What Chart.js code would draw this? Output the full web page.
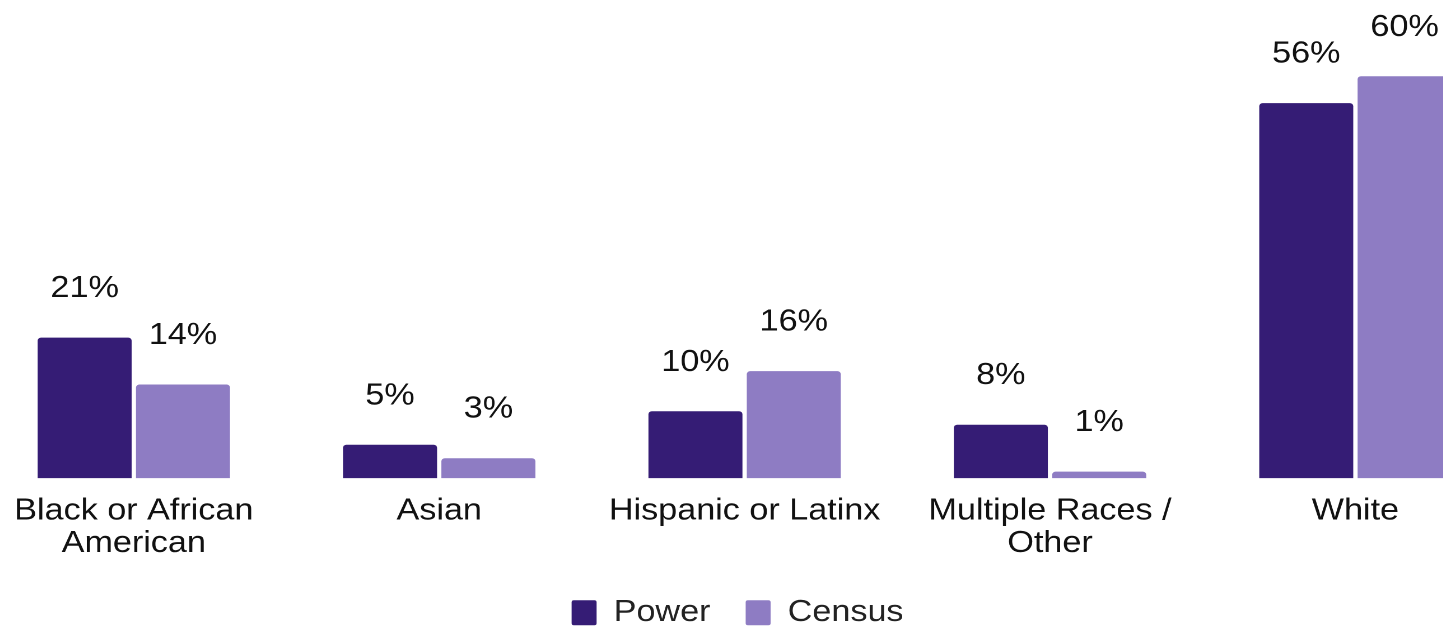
<!DOCTYPE html>
<html>
<head>
<meta charset="utf-8">
<script src="https://cdn.jsdelivr.net/npm/chart.js@4"></script>
<style>
  html, body { margin: 0; padding: 0; background: #ffffff; overflow: hidden; width: 1443px; height: 628px; }
  /* the chart is drawn a little narrow and widened horizontally */
  #wrap { position: absolute; left: -32.67px; top: 0; transform: scaleX(1.12); transform-origin: 0 0; }
  canvas { display: block; }
</style>
</head>
<body>
<div id="wrap"><canvas id="chart" width="1376" height="638"></canvas></div>
<script>
// Share of each group: people in power vs. census population
const categories = [['Black or African', 'American'], 'Asian', 'Hispanic or Latinx', ['Multiple Races /', 'Other'], 'White'];
const powerValues = [21, 5, 10, 8, 56];
const censusValues = [14, 3, 16, 1, 60];
const seriesNames = ['Power', 'Census'];
const seriesColors = ['#351c75', '#8e7cc3'];
const valueSuffix = '%';

const FONT = "'Liberation Sans', Arial, Helvetica, sans-serif";
const FONT_SIZE = 30.5;

// Value labels floating above each bar
const barValueLabels = {
  id: 'barValueLabels',
  afterDatasetsDraw(chart) {
    const ctx = chart.ctx;
    ctx.save();
    ctx.font = FONT_SIZE + 'px ' + FONT;
    ctx.fillStyle = '#111111';
    ctx.textAlign = 'center';
    ctx.textBaseline = 'alphabetic';
    chart.data.datasets.forEach((ds, di) => {
      chart.getDatasetMeta(di).data.forEach((bar, i) => {
        ctx.fillText(ds.data[i] + valueSuffix, bar.x, bar.y - 40.5);
      });
    });
    ctx.restore();
  }
};

const barStyle = {
  borderRadius: 3,
  borderSkipped: 'start',
  barPercentage: 0.956,
  categoryPercentage: 0.644
};

new Chart(document.getElementById('chart'), {
  type: 'bar',
  data: {
    labels: categories,
    datasets: [
      Object.assign({ label: seriesNames[0], data: powerValues, backgroundColor: seriesColors[0] }, barStyle),
      Object.assign({ label: seriesNames[1], data: censusValues, backgroundColor: seriesColors[1] }, barStyle)
    ]
  },
  options: {
    responsive: false,
    devicePixelRatio: 2,
    animation: false,
    layout: { padding: { top: 9.3, left: 0, right: 0, bottom: 0 } },
    plugins: {
      legend: {
        position: 'bottom',
        labels: {
          boxWidth: 22.3,
          boxHeight: 25,
          padding: 31.4,
          color: '#222222',
          font: { family: FONT, size: FONT_SIZE },
          useBorderRadius: true,
          borderRadius: 2
        }
      },
      tooltip: { enabled: false }
    },
    scales: {
      x: {
        grid: { display: false, drawTicks: false },
        border: { display: false },
        ticks: {
          color: '#111111',
          font: { family: FONT, size: FONT_SIZE, lineHeight: 1.066 },
          padding: 16.75,
          maxRotation: 0,
          autoSkip: false
        },
        afterFit(scale) { scale.height = 87.8; }
      },
      y: {
        min: 0,
        max: 70,
        grid: { display: false, drawTicks: false },
        border: { display: false },
        ticks: { display: false },
        afterFit(scale) { scale.width = 12.6; }
      }
    }
  },
  plugins: [barValueLabels]
});
</script>
</body>
</html>
